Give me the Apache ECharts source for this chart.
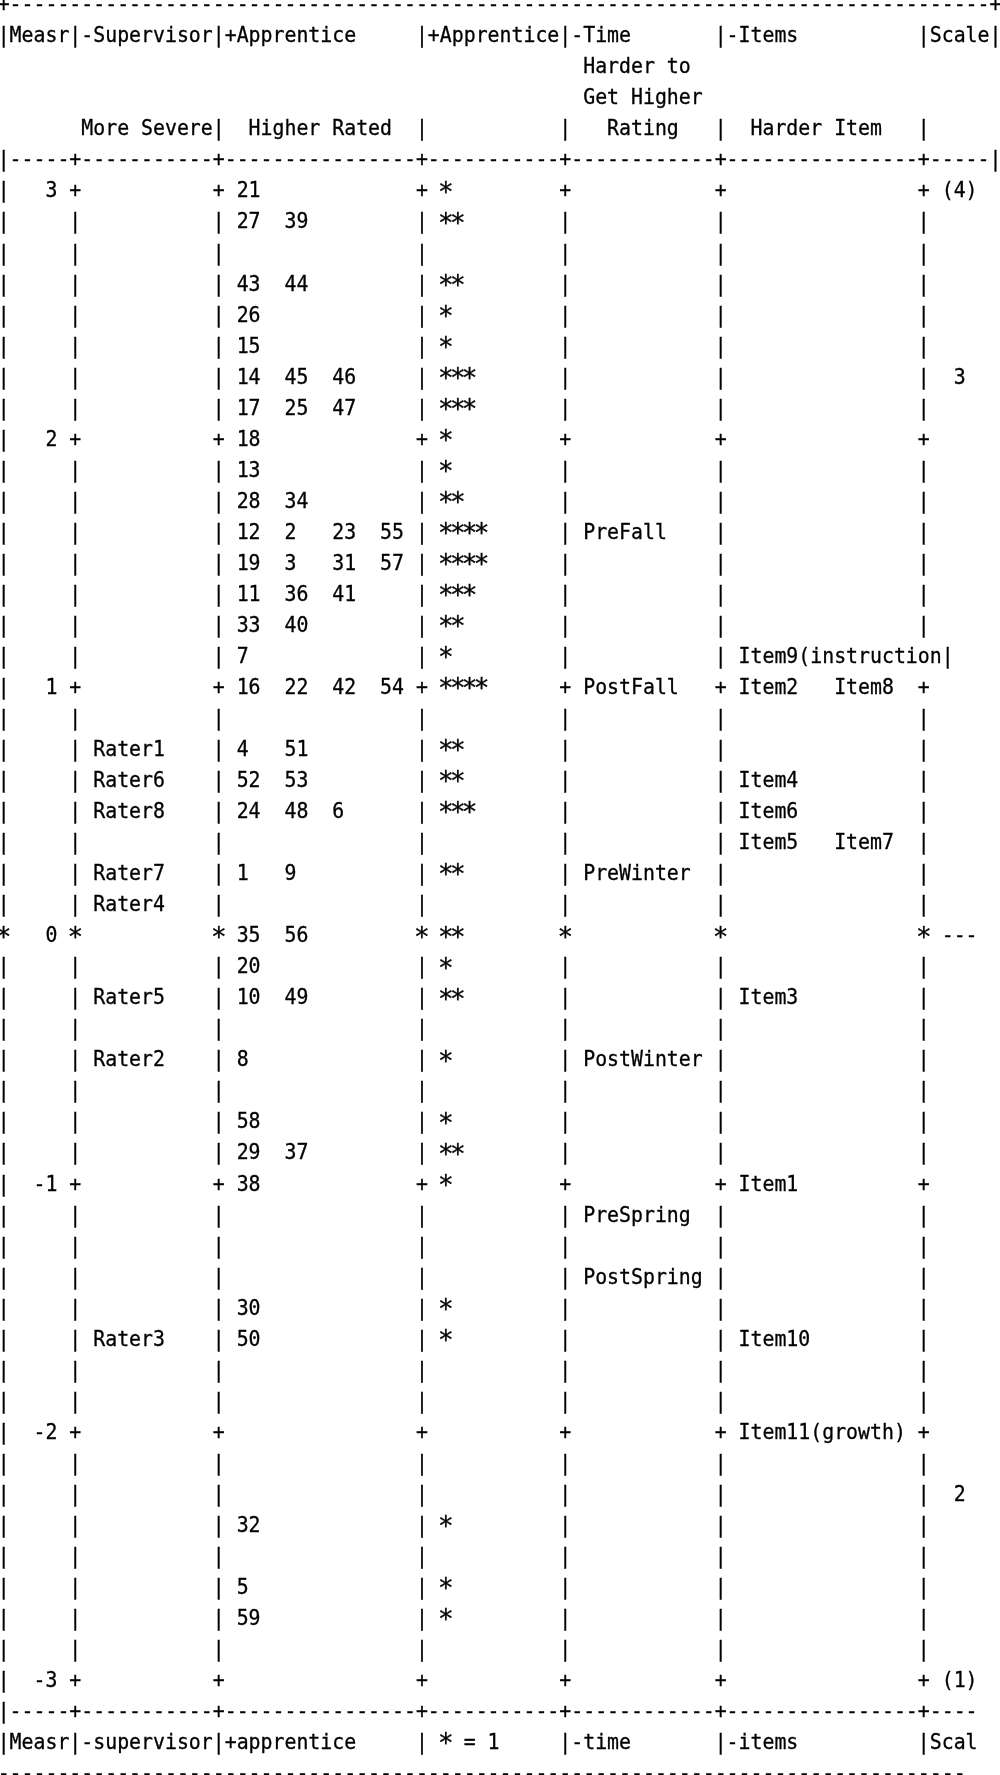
<!DOCTYPE html>
<html>
<head>
<meta charset="utf-8">
<title>Variable map</title>
<script src="https://cdn.jsdelivr.net/npm/echarts@6/dist/echarts.min.js"></script>
<style>
  html, body { margin: 0; padding: 0; background: #fff; }
  #chart { width: 1000px; height: 1775px; }
</style>
</head>
<body>
<div id="chart"></div>
<script>
  // ruler labels of the Measr column (logits)
  var measrTicks = [3, 2, 1, 0, -1, -2, -3]

  // apprentices, binned by logit (one text line = 1/8 logit)
  var apprenticeLogits = [3, 2.875, 2.625, 2.5, 2.375, 2.25, 2.125, 2,
    1.875, 1.75, 1.625, 1.5, 1.375, 1.25, 1.125, 1,
    0.75, 0.625, 0.5, 0.25, 0, -0.125, -0.25, -0.5,
    -0.75, -0.875, -1, -1.5, -1.625, -2.375, -2.625, -2.75]
  var apprenticeIds = [[21], [27, 39], [43, 44], [26], [15], [14, 45, 46], [17, 25, 47], [18],
    [13], [28, 34], [12, 2, 23, 55], [19, 3, 31, 57], [11, 36, 41], [33, 40], [7], [16, 22, 42, 54],
    [4, 51], [52, 53], [24, 48, 6], [1, 9], [35, 56], [20], [10, 49], [8],
    [58], [29, 37], [38], [30], [50], [32], [5], [59]]

  // supervisors (raters)
  var raterNames = ['Rater1', 'Rater6', 'Rater8', 'Rater7', 'Rater4', 'Rater5', 'Rater2', 'Rater3']
  var raterLogits = [0.75, 0.625, 0.5, 0.25, 0.125, -0.25, -0.5, -1.625]

  // time points
  var timeNames = ['PreFall', 'PostFall', 'PreWinter', 'PostWinter', 'PreSpring', 'PostSpring']
  var timeLogits = [1.625, 1, 0.25, -0.5, -1.125, -1.375]

  // items
  var itemNames = ['Item9(instruction', 'Item2', 'Item8', 'Item4', 'Item6', 'Item5', 'Item7',
    'Item3', 'Item1', 'Item10', 'Item11(growth)']
  var itemLogits = [1.125, 1, 1, 0.625, 0.5, 0.375, 0.375, -0.25, -1, -1.625, -2]

  // rating scale column
  var scaleLabels = ['(4)', '3', '---', '2', '(1)']
  var scaleLogits = [3, 2.25, 0, -2.25, -3]

  // text lines above and below the map (line number, text)
  var headerLines = [
    [0, '+' + new Array(83).join('-') + '+'],
    [1, '|Measr|-Supervisor|+Apprentice     |+Apprentice|-Time       |-Items          |Scale|'],
    [2, '                                                 Harder to'],
    [3, '                                                 Get Higher'],
    [4, '       More Severe|  Higher Rated  |           |   Rating   |  Harder Item   |'],
    [5, '|-----+-----------+----------------+-----------+------------+----------------+-----|'],
    [55, '|-----+-----------+----------------+-----------+------------+----------------+----'],
    [56, '|Measr|-supervisor|+apprentice     |   = 1     |-time       |-items          |Scal'],
    [57, new Array(82).join('-')]
  ]

  var CHAR_W = 11.95
  var FONT_SIZE = 21
  var FONT = FONT_SIZE + 'px "DejaVu Sans Mono", monospace'
  var SX = CHAR_W / (0.60205 * FONT_SIZE) // squeeze to the 11.95px character grid
  var STAR_FONT = '26px "DejaVu Sans Mono", monospace'
  var STAR_DY = 2

  // line number -> logit (line 6 is logit 3, 8 lines per logit)
  function lineLogit (n) {
    return 3 - (n - 6) / 8
  }

  var texts = []
  function put (col, logit, text, align) {
    texts.push({ col: col, logit: logit, text: text, align: align || 'left', star: false })
  }
  // asterisks are placed one by one, centred in their character cell
  function putStar (col, logit) {
    texts.push({ col: col + 0.5, logit: logit, text: '*', align: 'center', star: true })
  }

  headerLines.forEach(function (l) {
    put(0, lineLogit(l[0]), l[1])
  })
  putStar(37, lineLogit(56))

  // items, 8 columns per slot when several share a line
  var itemSlot = {}
  var itemEnd = {}
  itemNames.forEach(function (name, i) {
    var key = Math.round(itemLogits[i] * 8)
    var slot = itemSlot[key] || 0
    itemSlot[key] = slot + 1
    var col = 62 + 8 * slot
    put(col, itemLogits[i], name)
    itemEnd[key] = col + name.length
  })

  // vertical rulers
  for (var i = 0; i <= 48; i++) {
    var logit = 3 - i / 8
    var key = 24 - i
    var cols = [0, 6, 18, 35, 47, 60, Math.max(77, itemEnd[key] || 0)]
    cols.forEach(function (c, j) {
      if (i === 24) {
        putStar(c, logit)
      } else {
        put(c, logit, (j > 0 && i % 8 === 0) ? '+' : '|')
      }
    })
  }

  measrTicks.forEach(function (t) {
    put(5, t, String(t), 'right')
  })

  apprenticeIds.forEach(function (ids, i) {
    ids.forEach(function (id, j) {
      put(20 + 4 * j, apprenticeLogits[i], String(id))
      putStar(37 + j, apprenticeLogits[i])
    })
  })

  raterNames.forEach(function (name, i) {
    put(8, raterLogits[i], name)
  })

  timeNames.forEach(function (name, i) {
    put(49, timeLogits[i], name)
  })

  scaleLabels.forEach(function (s, i) {
    put(80.5, scaleLogits[i], s, 'center')
  })

  var chart = echarts.init(document.getElementById('chart'))
  var option = {
    backgroundColor: '#fff',
    animation: false,
    grid: { left: 0, right: 0, top: 0, bottom: 0 },
    xAxis: { type: 'value', min: 0.1987, max: 83.88, show: false },
    yAxis: { type: 'value', min: -3.3762, max: 3.7734, show: false },
    series: [
      {
        type: 'custom',
        coordinateSystem: 'cartesian2d',
        clip: false,
        silent: true,
        encode: { x: 0, y: 1 },
        data: texts.map(function (t) { return [t.col, t.logit] }),
        renderItem: function (params, api) {
          var t = texts[params.dataIndex]
          var pt = api.coord([t.col, t.logit])
          return {
            type: 'text',
            x: pt[0],
            y: pt[1] + (t.star ? STAR_DY : 0),
            scaleX: t.star ? 1 : SX,
            style: {
              text: t.text,
              fill: '#000',
              stroke: '#000',
              lineWidth: 0.3,
              font: t.star ? STAR_FONT : FONT,
              align: t.align,
              verticalAlign: 'middle'
            }
          }
        }
      }
    ]
  }
  chart.setOption(option)
</script>
</body>
</html>
